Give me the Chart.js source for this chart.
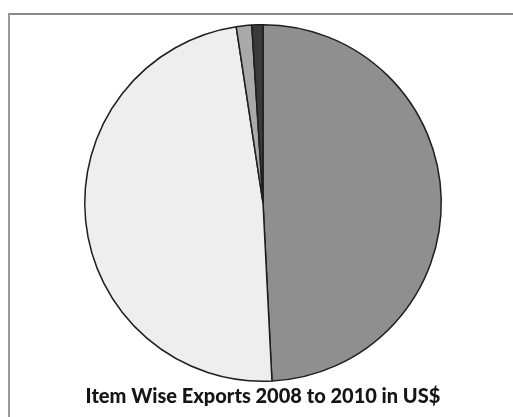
<!DOCTYPE html>
<html>
<head>
<meta charset="utf-8">
<script src="https://cdn.jsdelivr.net/npm/chart.js@4/dist/chart.umd.min.js"></script>
<style>
  html, body { margin: 0; padding: 0; background: #ffffff; }
  #wrap { position: relative; width: 513px; height: 417px; overflow: hidden; }
  #frame { position: absolute; left: 8px; top: 13px; width: 520px; height: 420px;
           border-top: 2px solid #8a8a8a; border-left: 2px solid #9a9a9a; }
  canvas { position: absolute; left: 0; top: 0; }
</style>
</head>
<body>
<div id="wrap">
  <div id="frame"></div>
  <canvas id="c" width="513" height="417"></canvas>
</div>
<script>
const categories = ['Item 1', 'Item 2', 'Item 3', 'Item 4'];
const shares = [49.2, 48.4, 1.4, 1.0];
const sliceColors = ['#8f8f8f', '#eeeeee', '#a9a9a9', '#3a3a3a'];
const titleText = 'Item Wise Exports 2008 to 2010 in US$';

new Chart(document.getElementById('c'), {
  type: 'pie',
  data: {
    labels: categories,
    datasets: [{
      data: shares,
      backgroundColor: sliceColors,
      borderColor: '#1e1e1e',
      borderWidth: 1.5
    }]
  },
  options: {
    responsive: false,
    animation: false,
    events: [],
    layout: { padding: { top: 24, left: 13, right: 0, bottom: 0 } },
    plugins: {
      legend: { display: false },
      tooltip: { enabled: false },
      title: {
        display: true,
        position: 'bottom',
        text: titleText,
        color: '#151515',
        font: { family: 'Lato', size: 20, weight: 900 },
        padding: { top: 3, bottom: 8 }
      }
    }
  }
});
</script>
</body>
</html>
